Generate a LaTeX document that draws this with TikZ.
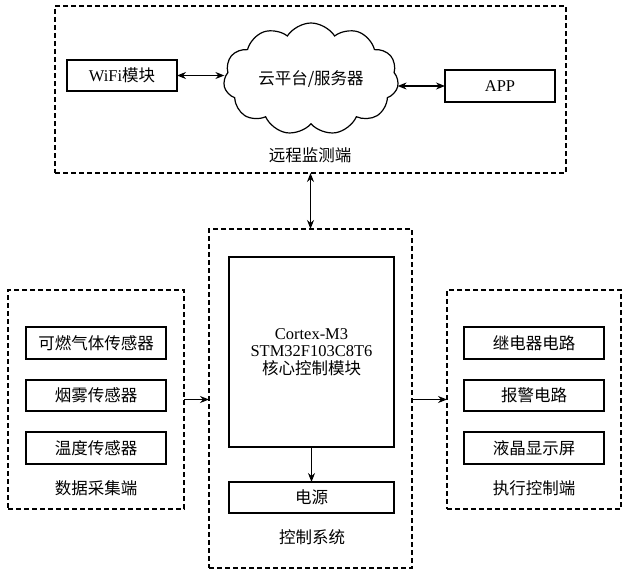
\documentclass[tikz,border=0pt]{standalone}
\usepackage{fontspec}
\setmainfont{Liberation Serif}
\newfontfamily\cjk{Noto Sans CJK SC}
\usetikzlibrary{shapes.symbols,arrows.meta}
\begin{document}
\begin{tikzpicture}[x=1pt,y=-1pt,
  box/.style={draw,line width=1.2pt,inner sep=0pt,outer sep=0pt,font=\fontsize{16.5}{18}\selectfont},
  cbox/.style={box,font=\fontsize{16.5}{18}\selectfont\cjk},
  group/.style={draw,line width=1.2pt,dash pattern=on 5pt off 3pt,inner sep=0pt,outer sep=0pt},
  lbl/.style={font=\fontsize{16.5}{18}\selectfont\cjk,inner sep=0pt},
  arr/.style={line width=1.2pt,-{Stealth[length=9pt,width=7pt]}},
  darr/.style={line width=1.2pt,{Stealth[length=9pt,width=7pt]}-{Stealth[length=9pt,width=7pt]}}]
\useasboundingbox (0,0) rectangle (624,570);
% remote monitoring group
\node[group,minimum width=511pt,minimum height=167pt] (top) at (310.5,89.5) {};
\node[box,minimum width=110pt,minimum height=31pt] (wifi) at (122,75.5) {WiFi{\cjk 模块}};
\node[draw,line width=1.2pt,cloud,cloud puffs=11,cloud puff arc=115,cloud ignores aspect,minimum width=175pt,minimum height=112pt,inner sep=0pt,outer sep=0pt,font=\fontsize{16.5}{18}\selectfont\cjk] (cloud) at (311,79) {云平台/服务器};
\node[box,minimum width=110pt,minimum height=32pt] (app) at (500,86) {APP};
\node[lbl] (toplbl) at (310,155) {远程监测端};
\draw[darr] (wifi.east) -- (wifi.east -| cloud.west);
\draw[darr] (app.west -| cloud.east) -- (app.west);
% control system
\node[group,minimum width=203pt,minimum height=339pt] (ctrl) at (310.5,398.5) {};
\node[box,minimum width=165pt,minimum height=190pt] (mcu) at (311.5,352) {};
\node[align=center,inner sep=0pt,font=\fontsize{16.5}{17.5}\selectfont] (mcutxt) at (mcu.center)
  {Cortex-M3\\STM32F103C8T6\\{\cjk\fontsize{16.5}{17.5}\selectfont 核心控制模块}};
\node[cbox,minimum width=165pt,minimum height=31pt] (pwr) at (311.5,497.5) {电源};
\node[lbl] (ctrllbl) at (312,537) {控制系统};
\draw[arr] (mcu.south) -- (pwr.north);
\draw[darr] (top.south -| ctrl.north) -- (ctrl.north);
% data acquisition
\node[group,minimum width=176pt,minimum height=219pt] (left) at (96,399.5) {};
\node[cbox,minimum width=140pt,minimum height=32pt] (s1) at (96,343) {可燃气体传感器};
\node[cbox,minimum width=140pt,minimum height=31pt] (s2) at (96,395.5) {烟雾传感器};
\node[cbox,minimum width=140pt,minimum height=32pt] (s3) at (96,448) {温度传感器};
\node[lbl] (leftlbl) at (96,488) {数据采集端};
% actuation
\node[group,minimum width=174pt,minimum height=219pt] (right) at (534,399.5) {};
\node[cbox,minimum width=140pt,minimum height=32pt] (a1) at (534,343) {继电器电路};
\node[cbox,minimum width=140pt,minimum height=31pt] (a2) at (534,395.5) {报警电路};
\node[cbox,minimum width=140pt,minimum height=32pt] (a3) at (534,448) {液晶显示屏};
\node[lbl] (rightlbl) at (534,488) {执行控制端};
\draw[arr] (left.east) -- (left.east -| ctrl.west);
\draw[arr] (ctrl.east |- right.west) -- (right.west);
\end{tikzpicture}
\end{document}
